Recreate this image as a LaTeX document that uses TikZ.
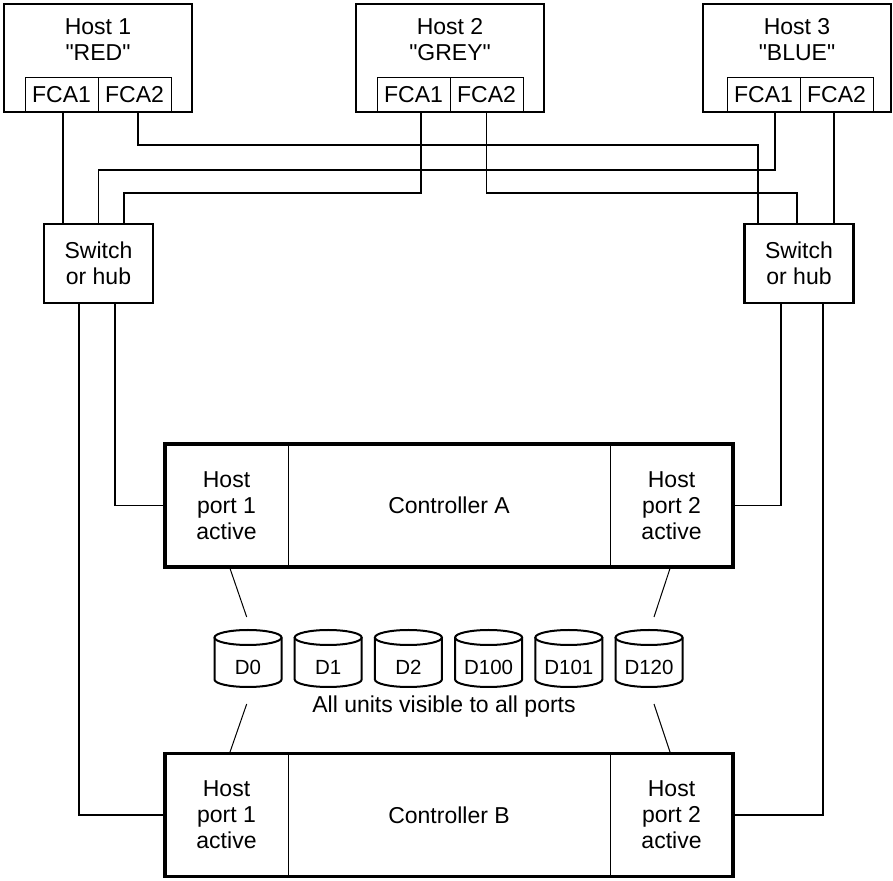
\documentclass[tikz,border=0pt]{standalone}
\usepackage{fontspec}
\setmainfont{Liberation Sans}
\usetikzlibrary{positioning}

\begin{document}
\begin{tikzpicture}[x=1pt, y=1pt, font=\fontsize{23}{26}\selectfont,
  host/.style={draw, line width=2.6pt, outer sep=0pt, minimum width=188pt, minimum height=108pt},
  fca/.style={draw, line width=1pt, outer sep=0pt, inner sep=0pt, minimum width=73pt, minimum height=34pt},
  switch/.style={draw, line width=2.6pt, outer sep=0pt, inner sep=0pt, align=center,
                 minimum width=109pt, minimum height=79pt},
  port/.style={draw, line width=1pt, outer sep=0pt, inner sep=0pt, align=center,
               minimum width=123pt, minimum height=123pt},
  ctrl/.style={draw, line width=1pt, outer sep=0pt, inner sep=0pt,
               minimum width=322pt, minimum height=123pt},
  wire/.style={line width=1.3pt},
  link/.style={line width=1pt},
  disk/.style={line width=2pt},
  disklabel/.style={inner sep=0pt, font=\fontsize{20.5}{24}\selectfont}]
  \useasboundingbox (0,0) rectangle (893,880);

  \node[host] (h1) at (98,822) {};
  \node[host] (h2) at (450,822) {};
  \node[host] (h3) at (797,822) {};
  \node[align=center] (h1name) at (98,840) {Host 1\\\textquotedbl RED\textquotedbl};
  \node[align=center] (h2name) at (450,840) {Host 2\\\textquotedbl GREY\textquotedbl};
  \node[align=center] (h3name) at (797,840) {Host 3\\\textquotedbl BLUE\textquotedbl};
  \node[fca, anchor=south east] (r1) at (h1.south) {FCA1};
  \node[fca, anchor=south west] (r2) at (h1.south) {FCA2};
  \node[fca, anchor=south east] (g1) at (h2.south) {FCA1};
  \node[fca, anchor=south west] (g2) at (h2.south) {FCA2};
  \node[fca, anchor=south east] (b1) at ([xshift=3pt]h3.south) {FCA1};
  \node[fca, anchor=south west] (b2) at ([xshift=3pt]h3.south) {FCA2};

  \node[switch] (s1) at (98.5,616.5) {Switch\\or hub};
  \node[switch] (s2) at (799,616.5) {Switch\\or hub};

  \draw[wire] ([xshift=1.5pt]r1.south) -- ([xshift=-35.5pt]s1.north);
  \draw[wire] ([xshift=3.5pt]r2.south) -- ++(0,-33) -| ([xshift=-41pt]s2.north);
  \draw[wire] ([xshift=7.5pt]g1.south) -- ++(0,-81) -| ([xshift=25.5pt]s1.north);
  \draw[wire] ([xshift=11.5pt]b1.south) -- ++(0,-58) -| (s1.north);
  \draw[wire] (g2.south) -- ++(0,-81) -| ([xshift=-2pt]s2.north);
  \draw[wire] ([xshift=-2.5pt]b2.south) -- ([xshift=35pt]s2.north);

  \node[port] (pa1) at (226.5,374.5) {Host\\port 1\\active};
  \node[ctrl, right=0pt of pa1] (ca) {Controller A};
  \node[port, right=0pt of ca] (pa2) {Host\\port 2\\active};
  \draw[line width=3.2pt] (pa1.north west) rectangle (pa2.south east);

  \node[port] (pb1) at (226.5,65) {Host\\port 1\\active};
  \node[ctrl, right=0pt of pb1] (cb) {Controller B};
  \node[port, right=0pt of cb] (pb2) {Host\\port 2\\active};
  \draw[line width=3.2pt] (pb1.north west) rectangle (pb2.south east);

  \draw[wire] ([xshift=16.5pt]s1.south) |- (pa1.west);
  \draw[wire] ([xshift=-19.5pt]s1.south) |- (pb1.west);
  \draw[wire] ([xshift=-18pt]s2.south) |- (pa2.east);
  \draw[wire] ([xshift=24pt]s2.south) |- (pb2.east);

  \foreach \x/\n in {248/D0, 328.2/D1, 408.4/D2, 488.6/D100, 568.8/D101, 649/D120} {
    \node[disklabel] (\n) at (\x,213) {\n};
    \draw[disk] (\x,242.5) ellipse [x radius=33.5, y radius=7.5];
    \draw[disk] (\x-33.5,242.5) -- (\x-33.5,200.5)
      arc[start angle=180, end angle=360, x radius=33.5, y radius=7.5] -- (\x+33.5,242.5);
  }
  \node (vis) at (444,173) {All units visible to all ports};

  \coordinate (ta1) at (246.7,263);
  \coordinate (ta2) at (654,263);
  \coordinate (tb1) at (246.7,176);
  \coordinate (tb2) at (654,176);
  \draw[link] ([xshift=3pt]pa1.south) -- (ta1);
  \draw[link] ([xshift=-1pt]pa2.south) -- (ta2);
  \draw[link] (tb1) -- ([xshift=3pt]pb1.north);
  \draw[link] (tb2) -- ([xshift=-1pt]pb2.north);
\end{tikzpicture}
\end{document}
